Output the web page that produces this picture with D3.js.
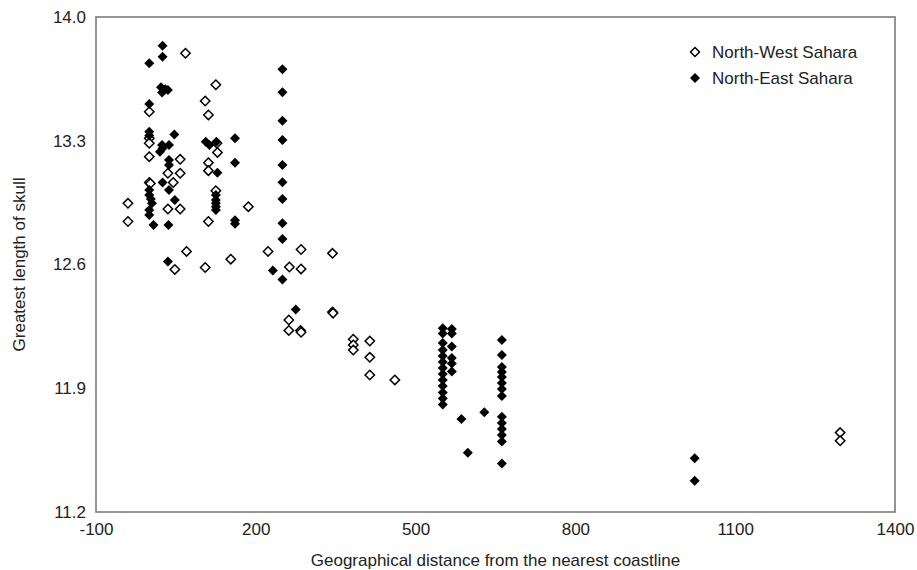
<!DOCTYPE html>
<html>
<head>
<meta charset="utf-8">
<script src="https://cdn.jsdelivr.net/npm/d3@7"></script>
<style>
  body { margin: 0; background: #fff; }
  text { font-family: "Liberation Sans", Arial, sans-serif; fill: #222; }
</style>
</head>
<body>
<div id="chart"></div>
<script>
// tick values
var xTicks = [-100, 200, 500, 800, 1100, 1400];
var yTicks = [11.2, 11.9, 12.6, 13.3, 14.0];

// series names
var seriesNames = ['North-West Sahara', 'North-East Sahara'];

// North-West Sahara: [distance, skull length]
var northWest = [
  [-40, 12.946], [-40, 12.843],
  [0, 13.464], [0, 13.314], [0, 13.286], [0, 13.210], [0, 13.064], [2, 13.058],
  [35, 13.116], [35, 12.914], [45, 13.064],
  [58, 13.195], [58, 13.116], [58, 12.914],
  [48, 12.572], [68, 13.795], [70, 12.674],
  [105, 13.525], [111, 13.446], [111, 13.176], [111, 13.131], [111, 12.843], [105, 12.583],
  [125, 13.617], [127, 13.286], [128, 13.234], [125, 13.017],
  [186, 12.927], [153, 12.630],
  [223, 12.674], [285, 12.685], [344, 12.663], [263, 12.586], [285, 12.575],
  [262, 12.286], [262, 12.227], [284, 12.227], [285, 12.217], [344, 12.331], [345, 12.325],
  [383, 12.177], [383, 12.145], [383, 12.116],
  [414, 12.167], [414, 12.075], [414, 11.975],
  [461, 11.947],
  [1297, 11.649], [1297, 11.603]
];

// North-East Sahara: [distance, skull length]
var northEast = [
  [0, 13.738], [0, 13.508], [0, 13.351], [0, 13.33], [0, 13.021], [0, 12.993], [3, 12.970],
  [5, 12.946], [0, 12.908], [0, 12.880], [8, 12.823],
  [25, 13.838], [25, 13.775], [22, 13.602], [30, 13.591], [24, 13.573], [35, 13.587],
  [24, 13.276], [25, 13.257], [20, 13.238], [25, 13.064],
  [37, 13.276], [37, 13.191], [37, 13.163], [37, 13.021], [36, 12.823], [35, 12.617],
  [47, 13.336], [48, 12.965],
  [106, 13.295], [113, 13.276],
  [126, 13.295], [128, 13.119], [125, 12.993], [125, 12.965], [125, 12.946], [125, 12.927], [125, 12.908],
  [161, 13.314], [161, 13.176], [161, 12.85], [161, 12.83],
  [250, 13.704], [250, 13.574], [250, 13.413], [250, 13.304], [250, 13.163], [250, 13.065],
  [250, 12.970], [250, 12.833], [250, 12.744], [250, 12.515],
  [232, 12.566], [275, 12.345],
  [551, 12.239], [551, 12.210], [551, 12.156], [551, 12.116], [551, 12.082], [551, 12.048],
  [551, 12.015], [551, 11.981], [551, 11.947], [551, 11.913], [551, 11.876], [551, 11.842], [551, 11.808],
  [568, 12.235], [568, 12.210], [568, 12.136], [568, 12.071], [568, 12.040], [568, 11.995],
  [586, 11.726], [629, 11.764], [598, 11.535],
  [662, 12.173], [662, 12.088], [662, 12.020], [662, 11.992], [662, 11.964], [662, 11.930],
  [662, 11.896], [662, 11.856], [662, 11.739], [662, 11.704], [662, 11.669], [662, 11.636],
  [662, 11.599], [662, 11.475],
  [1024, 11.504], [1024, 11.377]
];

var width = 917, height = 570;
var margin = { top: 17, right: 22, bottom: 58, left: 96 };
var plotW = width - margin.left - margin.right;
var plotH = height - margin.top - margin.bottom;
var fontSize = '17px';

var x = d3.scaleLinear().domain([-100, 1400]).range([0, plotW]);
var y = d3.scaleLinear().domain([11.2, 14.0]).range([plotH, 0]);

// diamond marker path
function diamond(r) {
  return 'M0,' + (-r) + 'L' + r + ',0L0,' + r + 'L' + (-r) + ',0Z';
}

var svg = d3.select('#chart').append('svg')
  .attr('width', width)
  .attr('height', height);

var g = svg.append('g')
  .attr('transform', 'translate(' + margin.left + ',' + margin.top + ')');

// frame
g.append('rect')
  .attr('x', 0).attr('y', 0)
  .attr('width', plotW).attr('height', plotH)
  .attr('fill', 'none')
  .attr('stroke', '#7a7a7a')
  .attr('stroke-width', 1.6);

// axes (labels only, no tick marks)
var xAxis = g.append('g')
  .attr('transform', 'translate(0,' + plotH + ')')
  .call(d3.axisBottom(x).tickValues(xTicks).tickSize(0).tickPadding(11)
    .tickFormat(function (d) { return String(d); }));
xAxis.select('.domain').remove();
xAxis.selectAll('text').style('font-size', fontSize).attr('fill', '#222');

var yAxis = g.append('g')
  .call(d3.axisLeft(y).tickValues(yTicks).tickSize(0).tickPadding(10).tickFormat(d3.format('.1f')));
yAxis.select('.domain').remove();
yAxis.selectAll('text').style('font-size', fontSize).attr('fill', '#222');

// points
g.append('g').selectAll('path')
  .data(northWest)
  .enter().append('path')
  .attr('d', diamond(4.7))
  .attr('transform', function (d) { return 'translate(' + x(d[0]) + ',' + y(d[1]) + ')'; })
  .attr('fill', '#fff')
  .attr('stroke', '#000')
  .attr('stroke-width', 1.5);

g.append('g').selectAll('path')
  .data(northEast)
  .enter().append('path')
  .attr('d', diamond(5))
  .attr('transform', function (d) { return 'translate(' + x(d[0]) + ',' + y(d[1]) + ')'; })
  .attr('fill', '#000');

// axis titles
svg.append('text')
  .attr('x', margin.left + plotW / 2)
  .attr('y', 566)
  .attr('text-anchor', 'middle')
  .style('font-size', fontSize)
  .text('Geographical distance from the nearest coastline');

svg.append('text')
  .attr('transform', 'translate(25,' + (margin.top + plotH / 2) + ') rotate(-90)')
  .attr('text-anchor', 'middle')
  .style('font-size', fontSize)
  .text('Greatest length of skull');

// legend
var legend = svg.append('g').attr('transform', 'translate(695,52)');
seriesNames.forEach(function (name, i) {
  var row = legend.append('g').attr('transform', 'translate(0,' + (i * 26) + ')');
  row.append('path')
    .attr('d', diamond(i === 0 ? 4.5 : 5))
    .attr('fill', i === 0 ? '#fff' : '#000')
    .attr('stroke', i === 0 ? '#000' : 'none')
    .attr('stroke-width', 1.5);
  row.append('text')
    .attr('x', 17)
    .attr('y', 6)
    .style('font-size', fontSize)
    .text(name);
});
</script>
</body>
</html>
